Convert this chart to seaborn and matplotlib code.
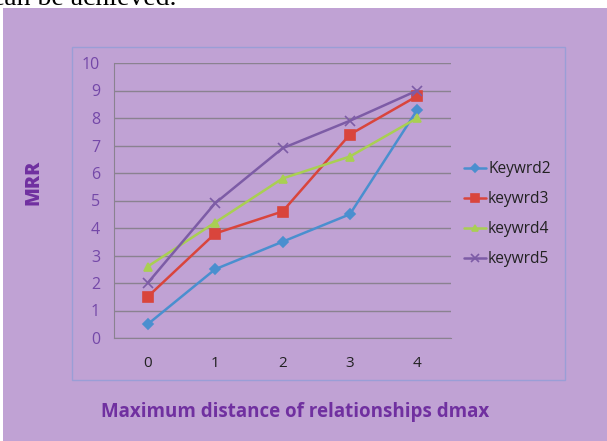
import matplotlib
matplotlib.use("Agg")
import matplotlib.pyplot as plt
from matplotlib.patches import Rectangle
import numpy as np
import pandas as pd
import seaborn as sns

# data
dmax = [0, 1, 2, 3, 4]
keywrd2 = [0.5, 2.5, 3.5, 4.5, 8.3]
keywrd3 = [1.5, 3.8, 4.6, 7.4, 8.8]
keywrd4 = [2.6, 4.2, 5.8, 6.6, 8.0]
keywrd5 = [2.0, 4.9, 6.9, 7.9, 9.0]
series_names = ["Keywrd2", "keywrd3", "keywrd4", "keywrd5"]
y_ticks = list(range(0, 11))

df = pd.DataFrame({
    "dmax": dmax * 4,
    "MRR": keywrd2 + keywrd3 + keywrd4 + keywrd5,
    "series": [n for n in series_names for _ in dmax],
})

bg = "#c0a2d4"
palette = {"Keywrd2": "#4a8fcf", "keywrd3": "#d9453c",
           "keywrd4": "#a9cf52", "keywrd5": "#7d5ca6"}
markers = {"Keywrd2": "D", "keywrd3": "s", "keywrd4": "^", "keywrd5": "x"}
msizes = {"Keywrd2": 5, "keywrd3": 7, "keywrd4": 6, "keywrd5": 7}

sns.set_style("white")
plt.rcParams["font.family"] = ["Open Sans", "DejaVu Sans"]

fig = plt.figure(figsize=(6.07, 4.41), dpi=100)
W, H = 607, 441

# white strip with cut-off body text on top
fig.text(-0.014, 1 - 5 / H, "can be achieved.", family="Liberation Serif",
         fontsize=20, va="baseline", ha="left", color="black")
fig.patches.append(Rectangle((3 / W, 0), 1, 1 - 8 / H, transform=fig.transFigure,
                             facecolor=bg, edgecolor="none", zorder=-10))
fig.patches.append(Rectangle((72 / W, 1 - 380 / H), (565 - 72) / W, (380 - 47) / H,
                             transform=fig.transFigure, facecolor="none",
                             edgecolor="#9a9ed6", lw=1.0, zorder=-5))

ax = fig.add_axes([114 / W, 1 - 338 / H, (451 - 114) / W, (338 - 63) / H])
ax.set_facecolor("none")
ax.set_zorder(2)

for name in series_names:
    sub = df[df["series"] == name]
    sns.lineplot(data=sub, x="dmax", y="MRR", color=palette[name],
                 marker=markers[name], markersize=msizes[name],
                 markeredgecolor=palette[name], markeredgewidth=1.2,
                 lw=1.8, label=name, ax=ax)

ax.set_xlim(-0.5, 4.5)
ax.set_ylim(0, 10)
ax.set_yticks(y_ticks)
ax.set_xticks(dmax)
ax.set_xticks(np.arange(-0.5, 5, 1), minor=True)
ax.grid(axis="y", color="#8a8290", lw=1.0)
ax.set_axisbelow(True)
ax.tick_params(axis="x", which="major", length=0, pad=13, labelsize=11,
               labelcolor="#222222")
ax.tick_params(axis="x", which="minor", length=5, color="#8a8290", direction="out")
ax.tick_params(axis="y", length=6, color="#8a8290", labelsize=11.5,
               labelcolor="#7448a8", pad=4)
for s in ["top", "right"]:
    ax.spines[s].set_visible(False)
for s in ["left", "bottom"]:
    ax.spines[s].set_color("#8a8290")

ax.set_xlabel("")
ax.set_ylabel("")
fig.text(295 / W, 1 - 412 / H, "Maximum distance of relationships dmax",
         ha="center", va="center", fontsize=13.5, fontweight="bold", color="#7030a0")
fig.text(33 / W, 1 - 182 / H, "MRR", rotation=90, ha="center", va="center",
         fontsize=14, fontweight="heavy", color="#7030a0")

leg = ax.legend(loc="center left", bbox_to_anchor=(464 / W, 1 - 214 / H),
                bbox_transform=fig.transFigure, frameon=False, fontsize=11.2,
                handlelength=1.4, handletextpad=0.15, labelspacing=0.9,
                borderaxespad=0, borderpad=0, markerscale=0.8)
for t in leg.get_texts():
    t.set_color("#222222")

fig.savefig("out.png", dpi=100, facecolor="white")
